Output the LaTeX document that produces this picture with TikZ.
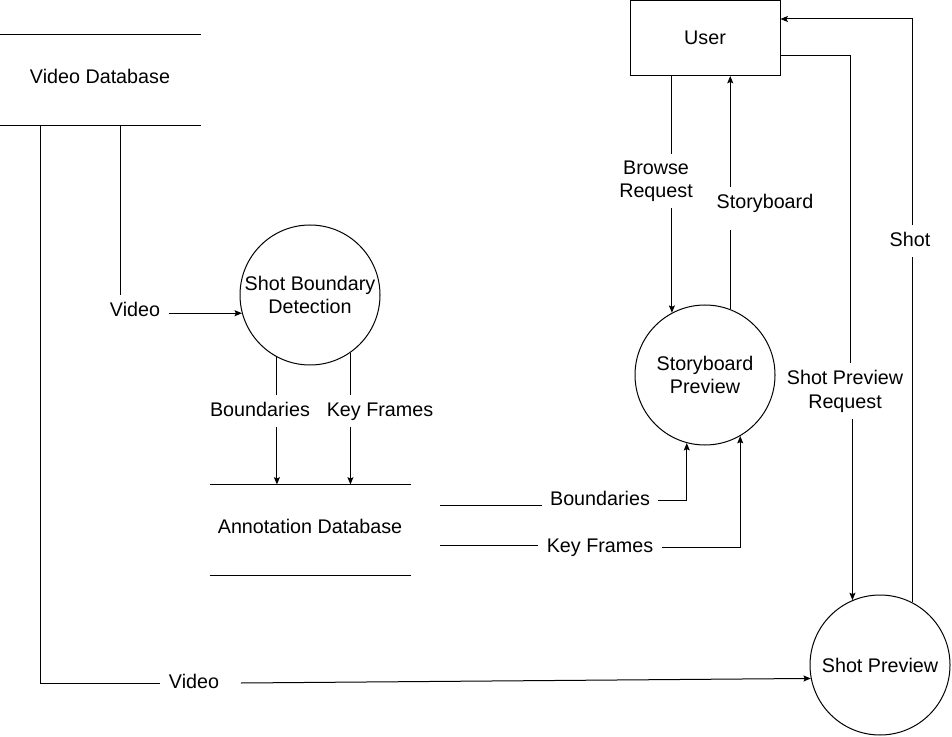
\documentclass[tikz,border=0pt]{standalone}
\usepackage{fontspec}
\setmainfont{Liberation Sans}
\usetikzlibrary{arrows.meta,calc}
\tikzset{
	proc/.style={draw, circle, minimum size=105pt, inner sep=0pt, align=center},
	ext/.style={draw, rectangle, minimum width=112.5pt, minimum height=56.25pt},
	store/.style={rectangle, minimum width=150pt, minimum height=67.5pt, text depth=6pt},
	flow/.style={inner xsep=6pt, inner ysep=5pt, align=center, text depth=0.25em},
	arr/.style={-{Stealth[length=5.5pt,width=4.5pt,inset=1pt]}}
}

\begin{document}
\begin{tikzpicture}[x=0.75pt, y=-0.75pt, line width=0.75pt, font=\fontsize{14.8}{17.8}\selectfont]
			%%%%% START %%%%%
			\useasboundingbox (0,0) rectangle (952,737);
			
			\node[store] (vdb) at (100,80) {Video Database};
			\draw (vdb.north west) -- (vdb.north east);
			\draw (vdb.south west) -- (vdb.south east);
			
			\node[store] (adb) at (310,530) {Annotation Database};
			\draw (adb.north west) -- (adb.north east);
			\draw (adb.south west) -- (adb.south east);
			
			\node[ext] (user) at (705,38) {User};
			\node[proc] (sbd) at (310,295) {Shot Boundary\\Detection};
			\node[proc] (sbp) at (705,375) {Storyboard\\Preview};
			\node[proc] (sp) at (880,665) {Shot Preview};
			
			\node[flow] (vid1) at (135,311) {Video};
			\node[flow] (vid2) at (194,683) {Video};
			\node[flow] (bnd1) at (260,411) {Boundaries};
			\node[flow] (kf1) at (380,411) {Key Frames};
			\node[flow] (bnd2) at (600,500) {Boundaries};
			\node[flow] (kf2) at (600,547) {Key Frames};
			\node[flow] (br) at (656,181) {Browse\\Request};
			\node[flow] (sb) at (765,203) {Storyboard};
			\node[flow] (spr) at (845,391) {Shot Preview\\Request};
			\node[flow] (shot) at (910,241) {Shot};
			
			\coordinate (vdb1) at (40,125);
			\coordinate (vdb2) at (120,125);
			\coordinate (ab1) at (440,505);
			\coordinate (ak1) at (440,545);
			\coordinate (u1) at (850,56);
			\coordinate (u2) at (910,19);
			
			\draw (vdb2) -- (vdb2 |- vid1.north);
			\draw[arr] (vid1.east |- sbd.195) -- (sbd.195);
			\draw (vdb1) |- (vid2.west);
			\draw[arr] ([xshift=10pt]vid2.east) -- (sp.191);
			
			\draw (sbd.242) -- (sbd.242 |- bnd1.north);
			\draw[arr] (sbd.242 |- bnd1.south) -- (sbd.242 |- adb.north);
			\draw (sbd.305) -- (sbd.305 |- kf1.north);
			\draw[arr] (sbd.305 |- kf1.south) -- (sbd.305 |- adb.north);
			
			\draw (ab1) -- (bnd2.west |- ab1);
			\draw[arr] (bnd2.east) -| (sbp.255);
			\draw (ak1) -- (kf2.west |- ak1);
			\draw[arr] (kf2.east) -| (sbp.300);
			
			\draw (sbp.118 |- user.south) -- (sbp.118 |- br.north);
			\draw[arr] (sbp.118 |- br.south) -- (sbp.118);
			\draw (sbp.69) -- ([yshift=-8pt]sbp.69 |- sb.south);
			\draw[arr] (sbp.69 |- sb.north) -- (sbp.69 |- user.south);
			
			\draw (user.east |- u1) -- (u1) -- (u1 |- spr.north);
			\draw[arr] (sp.113 |- spr.south) -- (sp.113);
			\draw (sp.63) -- (sp.63 |- shot.south);
			\draw[arr] (sp.63 |- shot.north) |- (user.east |- u2);
			
			%%%%% END %%%%%
\end{tikzpicture}
\end{document}
